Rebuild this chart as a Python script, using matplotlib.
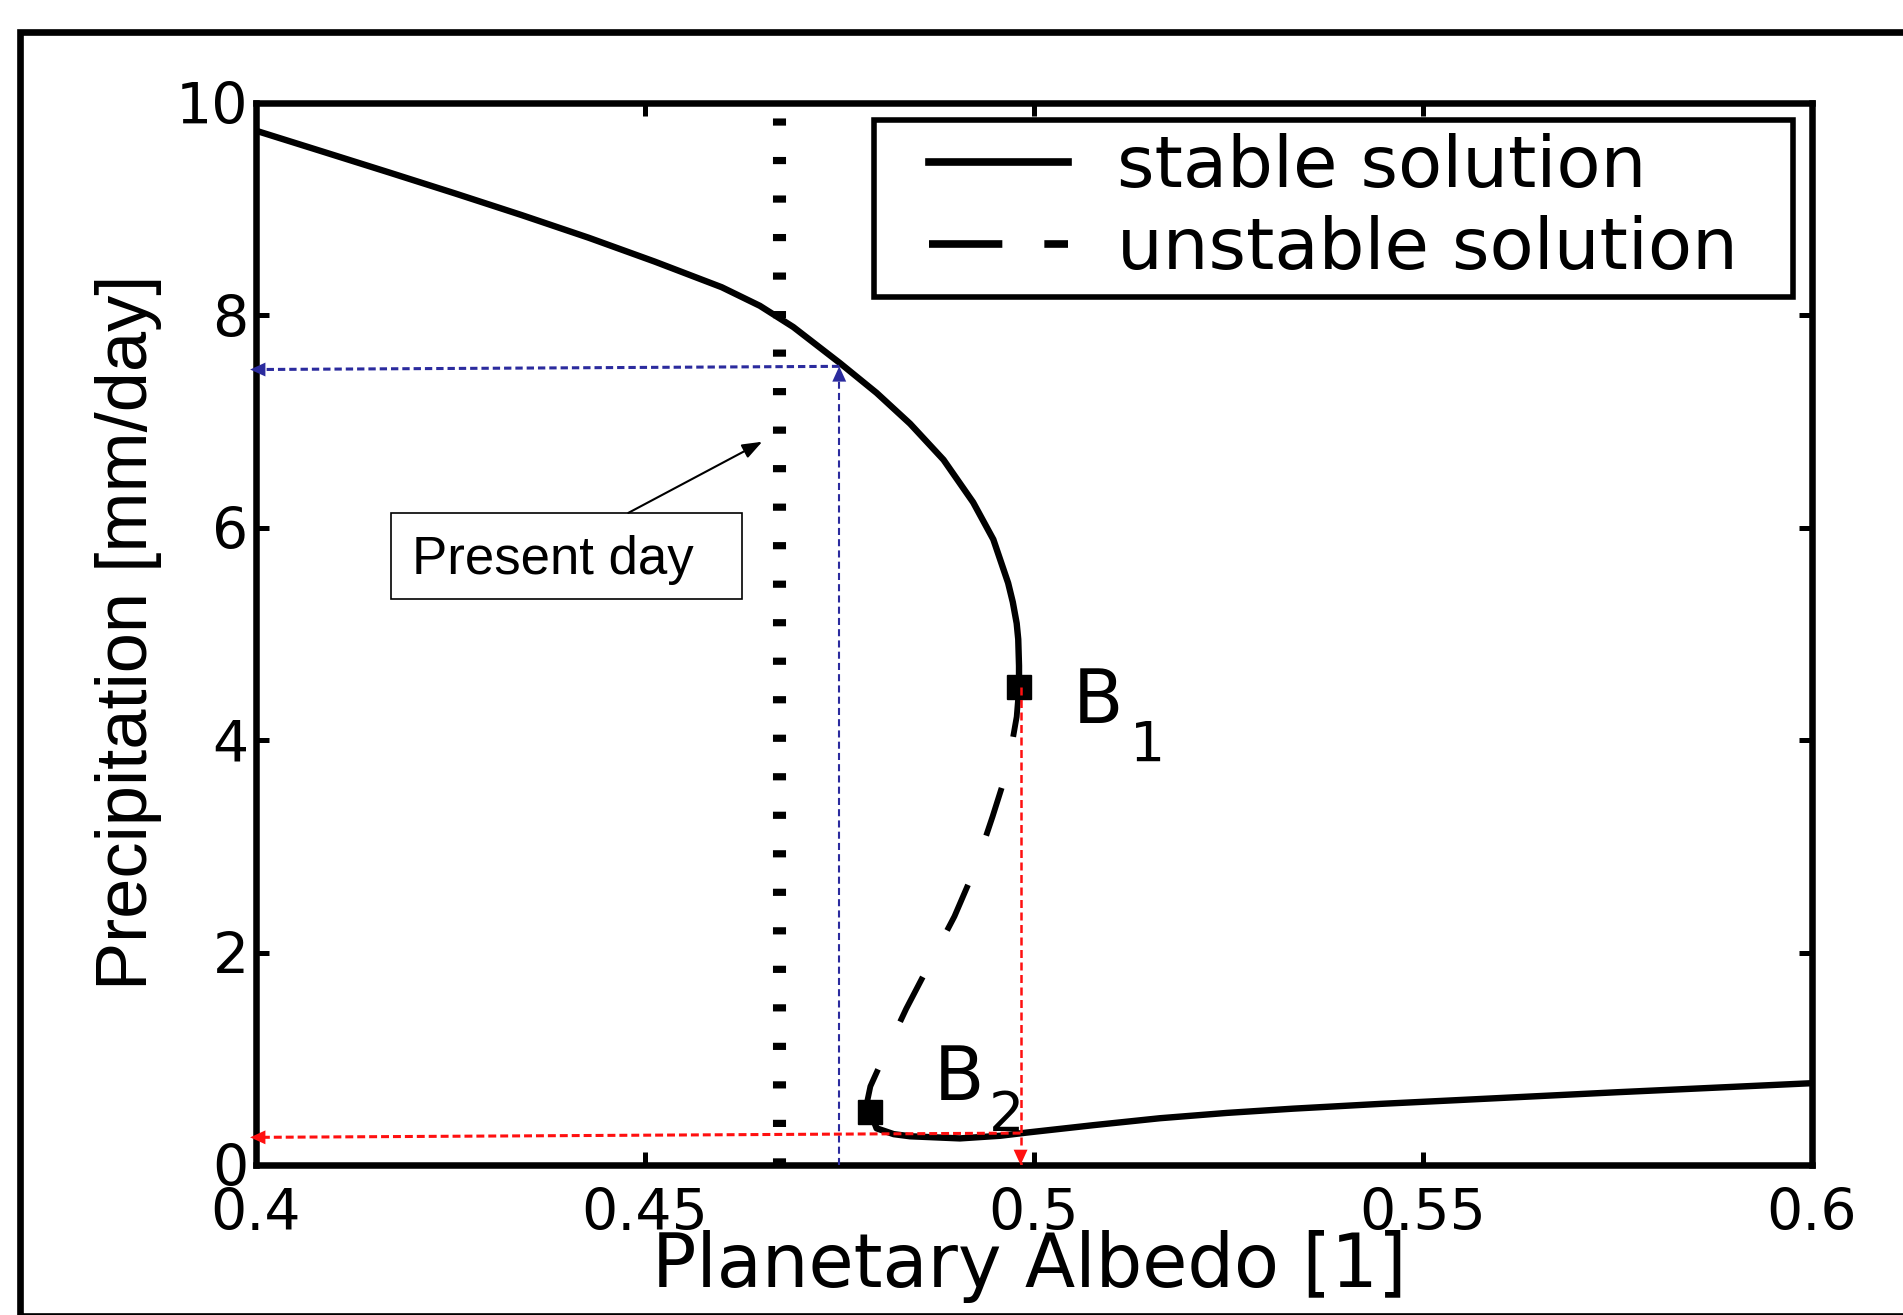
import numpy as np
import matplotlib
matplotlib.use('Agg')
import matplotlib.pyplot as plt
from matplotlib.lines import Line2D
from matplotlib.patches import Rectangle
from matplotlib.path import Path

# Values

# upper stable branch (albedo, precipitation)
alb_stable_hi = [0.4, 0.4085, 0.4171, 0.4256, 0.4342, 0.4428, 0.4513, 0.4599,
                 0.4648, 0.4691, 0.4751, 0.4798, 0.4841, 0.4884, 0.4922, 0.4948,
                 0.4967, 0.4973, 0.4978, 0.4980, 0.4981, 0.4981]
prec_stable_hi = [9.74, 9.545, 9.347, 9.149, 8.944, 8.731, 8.506, 8.265,
                  8.09, 7.89, 7.55, 7.27, 6.98, 6.64, 6.24, 5.89,
                  5.48, 5.30, 5.10, 4.95, 4.70, 4.50]

# unstable branch, B1 -> B2
alb_unstable = [0.4981, 0.4978, 0.4966, 0.4947, 0.4925, 0.4898, 0.4868, 0.4836,
                0.4806, 0.4790, 0.4786, 0.4790]
prec_unstable = [4.50, 4.22, 3.72, 3.28, 2.80, 2.34, 1.92, 1.47,
                 1.00, 0.74, 0.60, 0.50]

# lower stable branch
alb_stable_lo = [0.4790, 0.4798, 0.4820, 0.4841, 0.4905, 0.4957, 0.4991, 0.5077,
                 0.5162, 0.5248, 0.5333, 0.5445, 0.5543, 0.575, 0.6]
prec_stable_lo = [0.50, 0.345, 0.29, 0.27, 0.25, 0.275, 0.305, 0.375,
                  0.44, 0.49, 0.53, 0.575, 0.61, 0.685, 0.77]

# bifurcation points
b_alb = [0.4981, 0.4790]
b_prec = [4.50, 0.50]
b_names = ['1', '2']

present_alb = 0.4673          # dotted "present day" line
blue_alb = 0.4750             # blue guide arrows
blue_prec = [7.52, 7.49]
red_alb = 0.4983              # red guide arrows
red_prec = [0.30, 0.26]

xticks = [0.4, 0.45, 0.5, 0.55, 0.6]
xticklabels = ['0.4', '0.45', '0.5', '0.55', '0.6']
yticks = [0, 2, 4, 6, 8, 10]

blue = '#2b2b9e'
red = '#ff1010'

fig = plt.figure(figsize=(19.03, 13.15), dpi=100)
ax = fig.add_axes([0.1343, 0.1141, 0.8179, 0.8076])

# outer frame round the whole picture (right side runs off the image)
fig.add_artist(Rectangle((20 / 1903, -0.5 / 1315), 1.1, 1283.5 / 1315,
                         transform=fig.transFigure, fill=False, lw=4.8, ec='k'))

# present day, dotted
ax.axvline(present_alb, color='k', lw=9.4, linestyle=(0, (0.55, 2.4)), zorder=1)

# solution branches
ax.plot(alb_stable_hi, prec_stable_hi, color='k', lw=4.6, zorder=3)
ax.plot(alb_unstable, prec_unstable, color='k', lw=4.2,
        linestyle=(0, (8.6, 9.0)), zorder=3)
ax.plot(alb_stable_lo, prec_stable_lo, color='k', lw=4.6, zorder=3)
ax.plot(b_alb, b_prec, 's', color='k', ms=17, zorder=4)

# blue arrows
ax.plot([blue_alb, blue_alb], [0, blue_prec[0]], color=blue, lw=1.5,
        linestyle=(0, (3.4, 2.0)), zorder=5)
ax.plot([blue_alb, 0.4], blue_prec, color=blue, lw=2.2,
        linestyle=(0, (2.4, 1.3)), zorder=5, clip_on=False)
head = dict(arrowstyle='-|>,head_length=1.1,head_width=0.5', lw=0,
            mutation_scale=10, shrinkA=0, shrinkB=0)
ax.annotate('', xy=(blue_alb, blue_prec[0]), xytext=(blue_alb, blue_prec[0] - 0.3),
            arrowprops=dict(head, color=blue), annotation_clip=False, zorder=6)
ax.annotate('', xy=(0.3993, blue_prec[1]), xytext=(0.41, blue_prec[1]),
            arrowprops=dict(head, color=blue), annotation_clip=False, zorder=6)

# red arrows
ax.plot([red_alb, red_alb], [b_prec[0], 0], color=red, lw=1.8,
        linestyle=(0, (3.2, 1.8)), zorder=5)
ax.plot([red_alb, 0.4], red_prec, color=red, lw=2.2,
        linestyle=(0, (2.6, 1.3)), zorder=5, clip_on=False)
ax.annotate('', xy=(red_alb, 0.0), xytext=(red_alb, 0.3),
            arrowprops=dict(head, color=red), annotation_clip=False, zorder=6)
ax.annotate('', xy=(0.3993, red_prec[1]), xytext=(0.41, red_prec[1]),
            arrowprops=dict(head, color=red), annotation_clip=False, zorder=6)

# "Present day" box and pointer
ax.add_patch(Rectangle((0.41737, 5.33), 0.04518, 0.81, fill=False, lw=1.2,
                       ec='k', zorder=5))
ax.text(0.4201, 5.70, 'Present day', fontsize=38, family='Liberation Sans',
        va='center', ha='left', zorder=5)
ax.annotate('', xy=(0.4651, 6.81), xytext=(0.4479, 6.14),
            arrowprops=dict(arrowstyle='-|>,head_length=1.2,head_width=0.45',
                            color='k', lw=1.5, mutation_scale=10,
                            shrinkA=0, shrinkB=0), zorder=5)

# B1 / B2 labels
ax.text(0.5050, 4.16, 'B', fontsize=53, va='baseline')
ax.text(0.5123, 3.81, b_names[0], fontsize=40, va='baseline')
ax.text(0.4871, 0.61, 'B', fontsize=53, va='baseline')
ax.text(0.4942, 0.32, b_names[1], fontsize=40, va='baseline')


# legend frame: wider on the sides than on top and bottom
def wide_frame(x0, y0, width, height, mutation_size):
    dx = 0.58 * mutation_size
    return Path([(x0 - dx, y0), (x0 + width + dx, y0), (x0 + width + dx, y0 + height),
                 (x0 - dx, y0 + height), (x0 - dx, y0)], closed=True)


handles = [Line2D([], [], color='k', lw=5.5),
           Line2D([], [], color='k', lw=5.5, linestyle=(0, (9.6, 5.5)))]
leg = ax.legend(handles, ['stable solution', 'unstable solution'],
                loc='upper right', bbox_to_anchor=(0.9606, 0.984), borderaxespad=0,
                fontsize=52, fancybox=False, edgecolor='k', framealpha=1,
                handlelength=1.93, handletextpad=0.675, labelspacing=0.18,
                borderpad=0.18)
leg.get_frame().set_linewidth(4)
leg.get_frame().set_boxstyle(wide_frame)

# axes
ax.set_xlim(0.4, 0.6)
ax.set_ylim(0, 10)
ax.set_xticks(xticks, xticklabels)
ax.set_yticks(yticks)
ax.tick_params(direction='in', length=9.5, width=3.6, top=True, right=True,
               labelsize=41)
ax.tick_params(axis='x', pad=16)
ax.tick_params(axis='y', pad=5)
for s in ax.spines.values():
    s.set_linewidth(4.7)

ax.set_xlabel('Planetary Albedo [1]', fontsize=53, va='center')
ax.xaxis.set_label_coords(0.497, -0.096)
ax.set_ylabel('Precipitation [mm/day]', fontsize=52, family='Liberation Sans',
              va='center')
ax.yaxis.set_label_coords(-0.0819, 0.5014)

fig.savefig('out.png', dpi=100)
